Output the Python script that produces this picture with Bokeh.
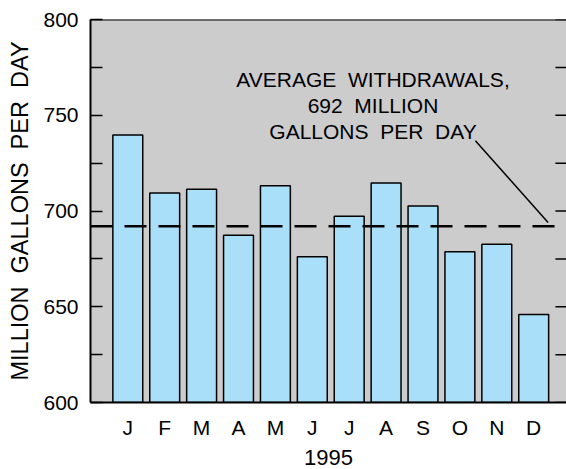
from bokeh.plotting import figure
from bokeh.models import Range1d, FixedTicker, Span, Label, ColumnDataSource
from bokeh.embed import file_html
from bokeh.resources import INLINE

# ---- data ----
months = ["J", "F", "M", "A", "M", "J", "J", "A", "S", "O", "N", "D"]
withdrawals = [739.7, 709.4, 711.3, 687.4, 713.2, 676.1, 697.2, 714.6, 702.6, 678.7, 682.7, 645.9]
average_withdrawal = 692
y_major_ticks = [600, 650, 700, 750, 800]
y_minor_ticks = [625, 675, 725, 775]
year_label = "1995"
NB = "\u00a0 "
y_title = NB.join(["MILLION", "GALLONS", "PER", "DAY"])
note_lines = [NB.join(["AVERAGE", "WITHDRAWALS,"]), NB.join(["692", "MILLION"]),
              NB.join(["GALLONS", "PER", "DAY"])]

FONT = "Liberation Sans"
positions = list(range(len(months)))
X_START, X_END = -1.011, 11.889
Y_START, Y_END = 600, 800
RIGHT_TICK_LEN = 0.3  # in x data units (about 11 px)

p = figure(width=566, height=469, output_backend="svg", toolbar_location=None,
           x_range=Range1d(X_START, X_END), y_range=Range1d(Y_START, Y_END),
           min_border_left=90, min_border_right=0, min_border_top=19, min_border_bottom=67)
p.background_fill_color = "#cccccc"
p.border_fill_color = "white"
p.outline_line_color = None
p.xgrid.visible = False
p.ygrid.visible = False

src = ColumnDataSource(dict(x=positions, top=withdrawals))
p.vbar(x="x", top="top", bottom=Y_START, width=0.81, source=src,
       fill_color="#aadff9", line_color="black", line_width=1.5)

# average line
p.add_layout(Span(location=average_withdrawal, dimension="width", line_color="black",
                  line_width=2.5, line_dash="22 12"))

# top border of the frame
p.add_layout(Span(location=Y_END, dimension="width", line_color="black", line_width=2))

# annotation
note_x = 6.645
note_y = [768.6, 755.0, 741.4]
for t, yy in zip(note_lines, note_y):
    p.add_layout(Label(x=note_x, y=yy, text=t, text_align="center", text_baseline="alphabetic",
                       text_font=FONT, text_font_size="21px", text_color="black"))
p.segment(x0=[9.42], y0=[736.7], x1=[11.39], y1=[694.0], line_color="black", line_width=1.5)

# right-side inward ticks along the frame edge
right_ticks = sorted(y_major_ticks + y_minor_ticks)
p.segment(x0=[X_END - RIGHT_TICK_LEN] * len(right_ticks), y0=right_ticks,
          x1=[X_END] * len(right_ticks), y1=right_ticks, line_color="black", line_width=1.5)

# x axis
xa = p.xaxis[0]
xa.ticker = FixedTicker(ticks=positions)
xa.major_label_overrides = {i: m for i, m in zip(positions, months)}
xa.major_tick_in = 0
xa.major_tick_out = 0
xa.minor_tick_in = 0
xa.minor_tick_out = 0
xa.axis_line_color = "black"
xa.axis_line_width = 2
xa.major_label_text_font = FONT
xa.major_label_text_font_size = "21px"
xa.major_label_text_color = "black"
xa.major_label_standoff = 13
xa.axis_label = year_label
xa.axis_label_text_font = FONT
xa.axis_label_text_font_size = "22px"
xa.axis_label_text_font_style = "normal"
xa.axis_label_text_color = "black"
xa.axis_label_standoff = 8

# y axis
ya = p.yaxis[0]
ya.ticker = FixedTicker(ticks=y_major_ticks, minor_ticks=y_minor_ticks)
ya.major_tick_in = 12
ya.major_tick_out = 0
ya.minor_tick_in = 12
ya.minor_tick_out = 0
ya.major_tick_line_width = 1.5
ya.minor_tick_line_width = 1.5
ya.axis_line_color = "black"
ya.axis_line_width = 2
ya.major_label_text_font = FONT
ya.major_label_text_font_size = "21px"
ya.major_label_text_color = "black"
ya.major_label_standoff = 12
ya.axis_label = y_title
ya.axis_label_text_font = FONT
ya.axis_label_text_font_size = "23.5px"
ya.axis_label_text_font_style = "normal"
ya.axis_label_text_color = "black"
ya.axis_label_standoff = 7

open("out.html", "w").write(file_html(p, INLINE))
